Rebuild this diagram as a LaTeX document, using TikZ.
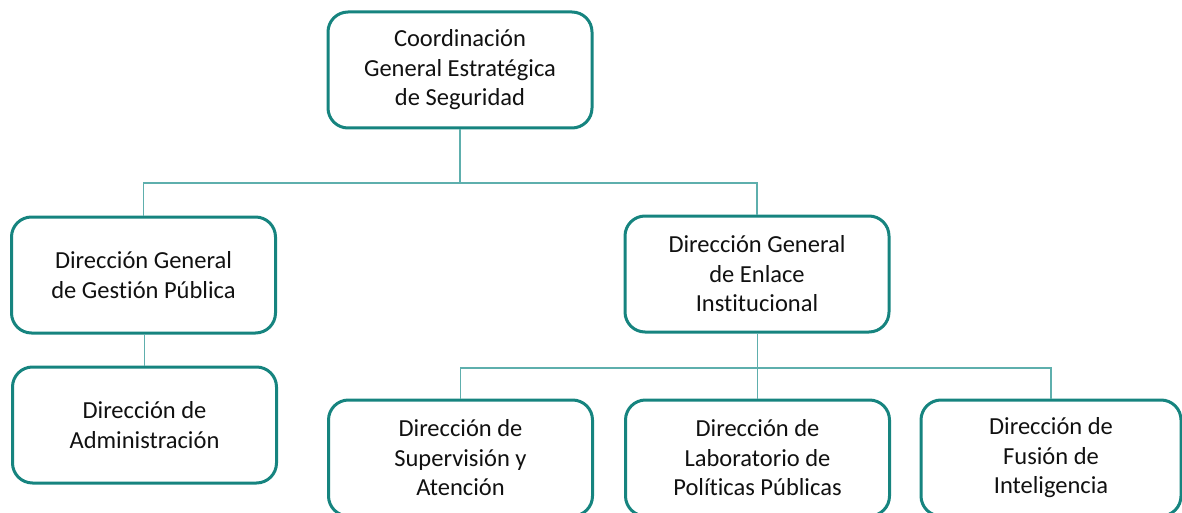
\documentclass[tikz,border=0pt]{standalone}
\usepackage{fontspec}
\setmainfont[Ligatures={NoCommon}]{Carlito}
\definecolor{boxline}{HTML}{16847F}
\definecolor{connline}{HTML}{5EAFAD}
\definecolor{txt}{HTML}{111111}
\begin{document}
\begin{tikzpicture}[x=1pt,y=1pt,
  orgbox/.style={draw=boxline, line width=3pt, rounded corners=20pt, fill=white,
    minimum width=264pt, minimum height=116pt, align=center, text=txt,
    font=\fontsize{24.5}{29.5}\selectfont, inner sep=0pt},
  conn/.style={draw=connline, line width=1.6pt}]
\useasboundingbox (0,0) rectangle (1182,-513);
\clip (0,0) rectangle (1182,-513);
\node[orgbox] (top) at (460,-70) {Coordinación\\General Estratégica\\de Seguridad};
\node[orgbox] (gp) at (143.5,-275) {Dirección General\\de Gestión Pública};
\node[orgbox] (adm) at (144.5,-425) {Dirección de\\Administración};
\node[orgbox] (enl) at (757,-274) {Dirección General\\de Enlace\\Institucional};
\node[orgbox] (sup) at (460.5,-458) {Dirección de\\Supervisión y\\Atención};
\node[orgbox] (lab) at (757.5,-458) {Dirección de\\Laboratorio de\\Políticas Públicas};
\node[orgbox, minimum width=260pt] (fus) at (1051,-458) {Dirección de\\Fusión de\\Inteligencia};
\coordinate (j1) at (460,-183);
\coordinate (j2) at (757.5,-368);
\draw[conn] (top.south) -- (j1);
\draw[conn] (j1) -| (gp.north);
\draw[conn] (j1) -| (enl.north);
\draw[conn] (gp.south -| adm.north) -- (adm.north);
\draw[conn] (enl.south -| j2) -- (j2);
\draw[conn] (j2) -| (sup.north);
\draw[conn] (j2) -- (lab.north);
\draw[conn] (j2) -| (fus.north);
\end{tikzpicture}
\end{document}
